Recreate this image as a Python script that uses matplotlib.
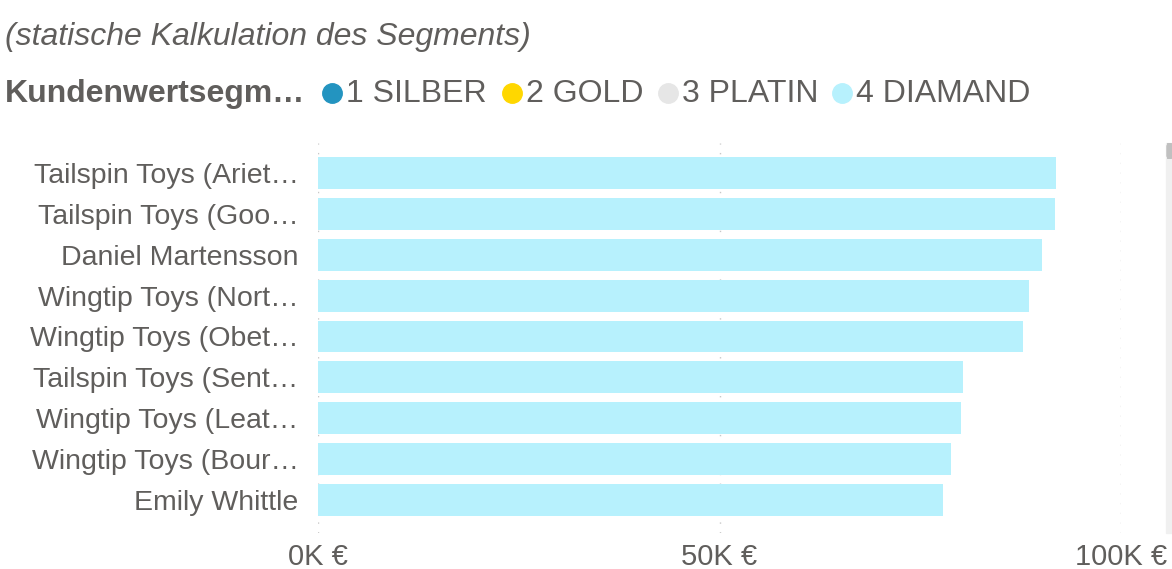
import matplotlib
matplotlib.use("Agg")
import matplotlib.pyplot as plt
from matplotlib.patches import FancyBboxPatch, Rectangle
from matplotlib.lines import Line2D
from matplotlib.ticker import FuncFormatter

categories = [
    "Tailspin Toys (Ariet…",
    "Tailspin Toys (Goo…",
    "Daniel Martensson",
    "Wingtip Toys (Nort…",
    "Wingtip Toys (Obet…",
    "Tailspin Toys (Sent…",
    "Wingtip Toys (Leat…",
    "Wingtip Toys (Bour…",
    "Emily Whittle",
]
values = [91900, 91800, 90200, 88500, 87800, 80300, 80100, 78800, 77800]
legend_title = "Kundenwertsegm…"
legend_labels = ["1 SILBER", "2 GOLD", "3 PLATIN", "4 DIAMAND"]
legend_colors = ["#2394C0", "#FFD700", "#E6E6E6", "#B7F1FD"]
subtitle = "(statische Kalkulation des Segments)"
xticks = [0, 50000, 100000]

plt.rcParams['font.family'] = ['Liberation Sans', 'DejaVu Sans']
txt = "#605E5C"

W, H = 1172, 569
fig = plt.figure(figsize=(W / 100, H / 100), dpi=100)
ax_l, ax_r = 318 / W, 1121 / W
ax_t, ax_b = 1 - 143 / H, 1 - 533 / H
ax = fig.add_axes([ax_l, ax_b, ax_r - ax_l, ax_t - ax_b])

y = list(range(len(categories)))
ax.barh(y, values, height=0.78, color=legend_colors[3], zorder=2)
ax.set_ylim(8.807, -0.733)
ax.set_xlim(0, 100000)
ax.set_yticks(y)
ax.set_yticklabels(categories, fontsize=20.5, color=txt)
ax.set_xticks(xticks)
ax.xaxis.set_major_formatter(FuncFormatter(lambda v, p: f"{int(v/1000)}K €"))
ax.tick_params(axis='x', labelsize=21, labelcolor=txt, length=0, pad=7)
ax.tick_params(axis='y', length=0, pad=14)
ax.grid(axis='x', color="#C8C8C8", linestyle=(0, (1, 6)), linewidth=1.0, zorder=0)
for s in ax.spines.values():
    s.set_visible(False)

# subtitle
fig.text(5 / W, 1 - 37 / H, subtitle, fontsize=23, style='italic', color=txt,
         ha='left', va='center')

# legend row
ly = 1 - 93 / H
fig.text(5 / W, 1 - 94 / H, legend_title, fontsize=23, fontweight='bold', color=txt,
         ha='left', va='center')
marker_x = [332, 512, 668, 842]
for mx, lab, col in zip(marker_x, legend_labels, legend_colors):
    fig.text((mx + 14) / W, 1 - 94 / H, lab, fontsize=23, color=txt, ha='left', va='center')
    fig.lines.append(Line2D([mx / W], [ly], marker='o', markersize=14, linestyle='none',
                            color=col, transform=fig.transFigure, figure=fig))

# scrollbar
fig.patches.append(Rectangle((1166 / W, 1 - 533 / H), 6 / W, 390 / H,
                             transform=fig.transFigure, color="#F0F0F0", figure=fig))
fig.patches.append(FancyBboxPatch((1167 / W, 1 - 158 / H), 5 / W, 14 / H,
                                  boxstyle="round,pad=0,rounding_size=0.004",
                                  transform=fig.transFigure, color="#C0C0C0", figure=fig))

fig.savefig("out.png", dpi=100)
